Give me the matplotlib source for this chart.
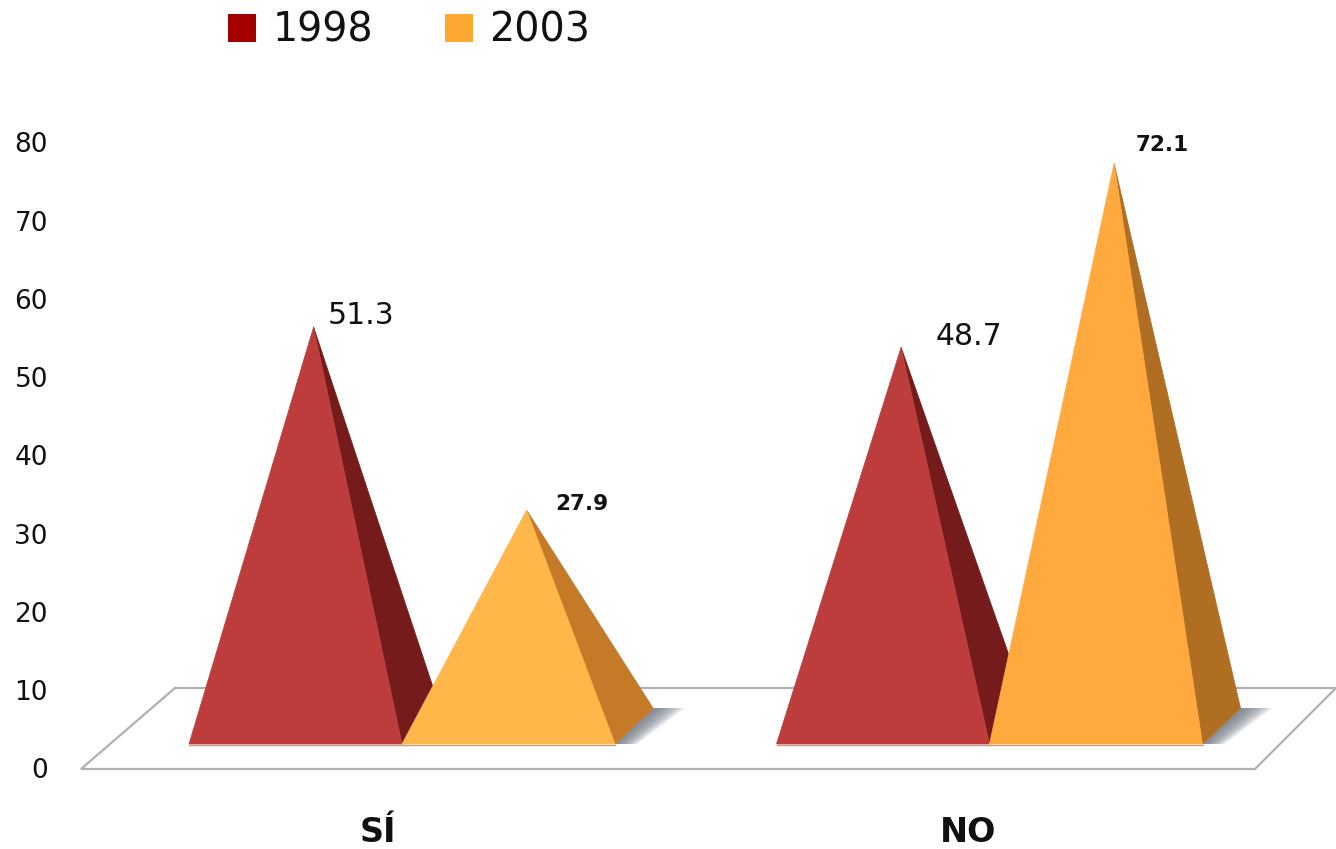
import matplotlib
matplotlib.use('Agg')
import matplotlib.pyplot as plt
from matplotlib.patches import Patch, Polygon

categories = ['SÍ', 'NO']
years = ['1998', '2003']
values_1998 = [51.3, 48.7]
values_2003 = [27.9, 72.1]
# altura dibujada de cada piramide (no coincide del todo con la etiqueta)
heights_1998 = [53.3, 50.7]
heights_2003 = [29.9, 74.2]
yticks = [0, 10, 20, 30, 40, 50, 60, 70, 80]

W, H = 1336, 849
PX_X = 587.5   # px por categoria
PX_Y = 7.825   # px por unidad de y
X0 = 402
Y0 = 769

BASE = 25 / PX_Y
BAR_W = 213 / PX_X
APEX = 0.585
DX = 38 / PX_X
DY = 36 / PX_Y

fig = plt.figure(figsize=(W / 100, H / 100), dpi=100)
ax = fig.add_axes([0, 0, 1, 1])
ax.set_xlim(-X0 / PX_X, (W - X0) / PX_X)
ax.set_ylim(-(H - Y0) / PX_Y, Y0 / PX_Y)
ax.axis('off')


def xp(px):
    return (px - X0) / PX_X


def yp(py):
    return (Y0 - py) / PX_Y


# suelo
floor_x = [xp(175), xp(81), xp(1255), xp(1336)]
floor_y = [yp(688), yp(769), yp(769), yp(688)]
ax.add_patch(Polygon(list(zip(floor_x, floor_y)), closed=True, fc='white',
                     ec='#b0b0b0', lw=1.6, zorder=1))


def pyramid(left, height, face, side, z):
    right = left + BAR_W
    top = (left + APEX * BAR_W, BASE + height)
    back = (right + DX, BASE + DY)
    # sombra: poligonos apilados para simular el degradado
    for i in range(12):
        f = 1 - i / 12
        ax.add_patch(Polygon([(right, BASE), (right + 22 / PX_X * f, BASE),
                              (back[0] + 32 / PX_X * f, back[1]), back],
                             closed=True, fc='#6f7682', ec='none', alpha=0.13, zorder=z))
    ax.add_patch(Polygon([top, (right, BASE), back], closed=True, fc=side, ec=side, lw=0.5, zorder=z + 0.1))
    ax.add_patch(Polygon([(left, BASE), (right, BASE), top], closed=True, fc=face, ec=face, lw=0.5, zorder=z + 0.2))
    ax.plot([left, right], [BASE - 0.1, BASE - 0.1], color='#b9a58c', lw=1, zorder=z)
    return top


tops = []
red_sides = [('#bd3d3d', '#761b1b'), ('#bd3d3d', '#761b1b')]
orange_sides = [('#ffb74a', '#c47a26'), ('#ffa93f', '#b06e22')]
for i in range(len(categories)):
    t1 = pyramid(i - BAR_W, heights_1998[i], red_sides[i][0], red_sides[i][1], 2)
    t2 = pyramid(i, heights_2003[i], orange_sides[i][0], orange_sides[i][1], 3)
    tops.append((t1, t2))

# etiquetas de datos: desplazamiento en puntos desde el vertice
lab = dict(textcoords='offset points', va='center', ha='left', zorder=6, color='#111111')
k = 0.72
ax.annotate(f'{values_1998[0]}', tops[0][0], xytext=(14 * k, 11 * k), fontsize=21.5, **lab)
ax.annotate(f'{values_2003[0]}', tops[0][1], xytext=(29 * k, 6 * k), fontsize=15.5, fontweight='bold', **lab)
ax.annotate(f'{values_1998[1]}', tops[1][0], xytext=(34 * k, 11 * k), fontsize=21.5, **lab)
ax.annotate(f'{values_2003[1]}', tops[1][1], xytext=(22 * k, 18 * k), fontsize=15.5, fontweight='bold', **lab)

# eje y
for v in yticks:
    ax.text(xp(48), v - 0.3, str(v), ha='right', va='center', fontsize=19, color='#111111')

# categorias
for i, c in enumerate(categories):
    ax.text(i - 24 / PX_X + (0 if i == 0 else 3 / PX_X), yp(832), c, ha='center', va='center',
            fontsize=24, fontweight='bold', color='#111111')

handles = [Patch(fc='#a40000', ec='none'), Patch(fc='#ffa733', ec='none')]
fig.legend(handles, years, loc='upper left', bbox_to_anchor=(228 / W, 1 - 11 / H), ncol=2,
           frameon=False, fontsize=28.5, borderpad=0, borderaxespad=0,
           handlelength=0.71, handleheight=0.71, handletextpad=0.41, columnspacing=1.82,
           labelcolor='#111111')

fig.savefig('out.png', dpi=100)
